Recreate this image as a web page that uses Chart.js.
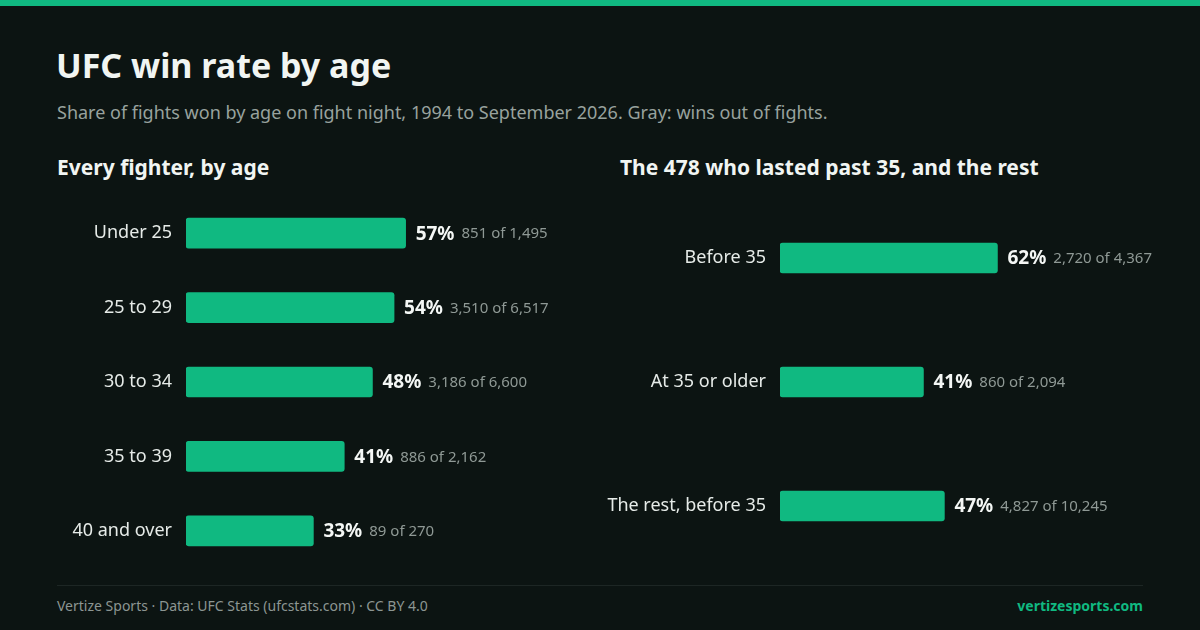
<!DOCTYPE html>
<html>
<head>
<meta charset="utf-8">
<script src="https://cdn.jsdelivr.net/npm/chart.js@4/dist/chart.umd.min.js"></script>
<style>
  html, body { margin: 0; padding: 0; }
  body { width: 1200px; height: 630px; background: #0c1412; position: relative; overflow: hidden; font-family: "Noto Sans", sans-serif; }
  .topbar { position: absolute; left: 0; top: 0; width: 1200px; height: 6px; background: #10b981; }
  .t { position: absolute; white-space: nowrap; }
  #title { left: 56px; top: 42px; font-size: 34px; font-weight: 700; color: #f1f5f2; }
  #sub { left: 57px; top: 100px; font-size: 18px; color: #98a29e; }
  .head { top: 153px; font-size: 21px; font-weight: 700; color: #f1f5f2; }
  .box { position: absolute; top: 196px; width: 600px; height: 372px; }
  #rule { position: absolute; left: 57px; top: 585px; width: 1086px; height: 1px; background: #1d2624; }
  .foot { top: 596px; font-size: 14px; color: #8c9692; }
</style>
</head>
<body>
<div class="topbar"></div>
<div class="t" id="title">UFC win rate by age</div>
<div class="t" id="sub">Share of fights won by age on fight night, 1994 to September 2026. Gray: wins out of fights.</div>
<div class="t head" style="left:57px">Every fighter, by age</div>
<div class="t head" style="left:620px">The 478 who lasted past 35, and the rest</div>
<div class="box" style="left:0"><canvas id="left"></canvas></div>
<div class="box" style="left:600px"><canvas id="right"></canvas></div>
<div id="rule"></div>
<div class="t foot" style="left:57px">Vertize Sports · Data: UFC Stats (ufcstats.com) · CC BY 4.0</div>
<div class="t foot" style="right:57px; color:#10b981; font-weight:700">vertizesports.com</div>
<script>
const ageGroups = ['Under 25', '25 to 29', '30 to 34', '35 to 39', '40 and over'];
const ageRate = [56.9, 53.9, 48.3, 41.0, 33.0];
const ageWins = ['851', '3,510', '3,186', '886', '89'];
const ageFights = ['1,495', '6,517', '6,600', '2,162', '270'];

const careerGroups = ['Before 35', 'At 35 or older', 'The rest, before 35'];
const careerRate = [62.3, 41.1, 47.1];
const careerWins = ['2,720', '860', '4,827'];
const careerFights = ['4,367', '2,094', '10,245'];

const green = '#10b981';

// pct in bold + "wins of fights" in gray, right after each bar
const valueLabels = {
  id: 'valueLabels',
  afterDatasetsDraw(chart, args, opts) {
    const ctx = chart.ctx;
    const meta = chart.getDatasetMeta(0);
    ctx.save();
    ctx.textBaseline = 'middle';
    meta.data.forEach((bar, i) => {
      const pct = Math.round(chart.data.datasets[0].data[i]) + '%';
      let x = bar.x + 10;
      ctx.font = '700 19px "Noto Sans"';
      ctx.fillStyle = '#f4f7f5';
      ctx.fillText(pct, x, bar.y + 1);
      x += ctx.measureText(pct).width + 7;
      ctx.font = '400 15px "Noto Sans"';
      ctx.fillStyle = '#8f9995';
      ctx.fillText(opts.wins[i] + ' of ' + opts.fights[i], x, bar.y + 1);
    });
    ctx.restore();
  }
};

function makeChart(id, labels, values, wins, fights, axisWidth, padRight) {
  return new Chart(document.getElementById(id), {
    type: 'bar',
    data: {
      labels: labels,
      datasets: [{
        data: values,
        backgroundColor: green,
        borderRadius: 3,
        borderSkipped: false,
        barThickness: 30
      }]
    },
    options: {
      indexAxis: 'y',
      responsive: true,
      maintainAspectRatio: false,
      animation: false,
      layout: { padding: { left: 0, right: padRight, top: 0, bottom: 0 } },
      plugins: {
        legend: { display: false },
        tooltip: { enabled: false },
        valueLabels: { wins: wins, fights: fights }
      },
      scales: {
        x: { display: false, min: 0, max: 100 },
        y: {
          afterFit(scale) {
            scale.width = axisWidth;
            scale.paddingTop = 0;
            scale.paddingBottom = 0;
          },
          grid: { display: false, drawTicks: false },
          border: { display: false },
          ticks: {
            color: '#e6ebe8',
            font: { family: 'Noto Sans', size: 18 },
            padding: 14
          }
        }
      }
    },
    plugins: [valueLabels]
  });
}

makeChart('left', ageGroups, ageRate, ageWins, ageFights, 186, 28);
makeChart('right', careerGroups, careerRate, careerWins, careerFights, 180, 71);
</script>
</body>
</html>
